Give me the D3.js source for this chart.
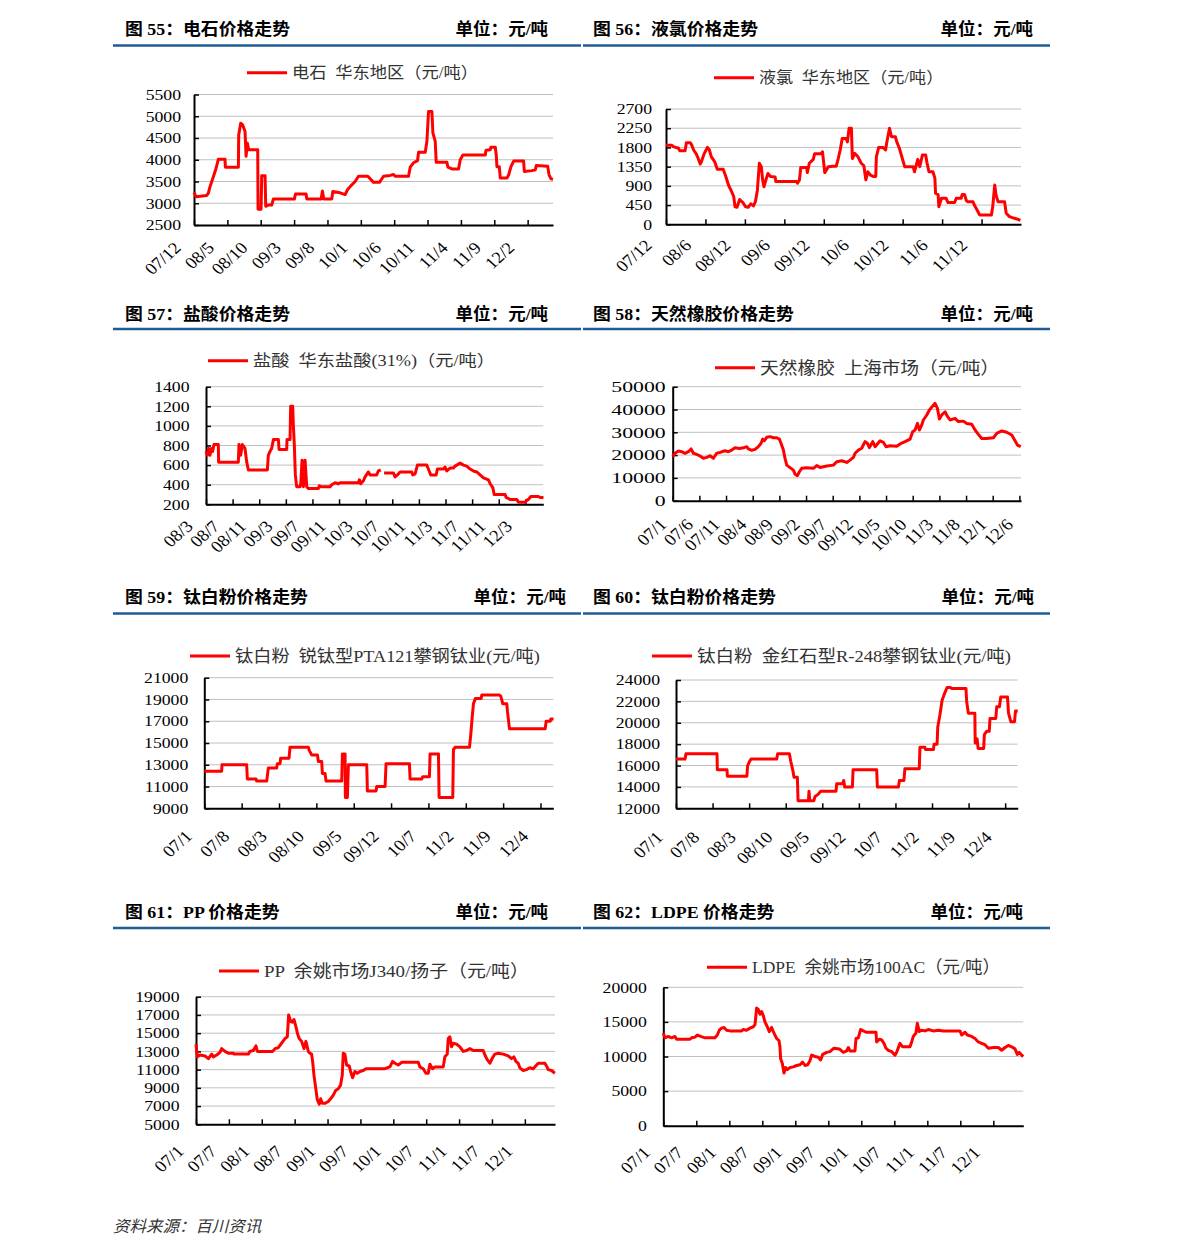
<!DOCTYPE html>
<html>
<head>
<meta charset="utf-8">
<script src="https://cdn.jsdelivr.net/npm/d3@7"></script>
<style>
  body { margin: 0; background: #fff; }
  svg { display: block; }
</style>
</head>
<body>
<svg id="chart" width="1191" height="1256"></svg>
<script>
// ---- data: [months since first label, price in 元/吨] ----
const carbideLabels = ["07/12", "08/5", "08/10", "09/3", "09/8", "10/1", "10/6", "10/11", "11/4", "11/9", "12/2"];
const carbideTicks = [2500, 3000, 3500, 4000, 4500, 5000, 5500];
const carbidePrice = [[0,3250],[0.3,3150],[1.9,3180],[2.15,3230],[2.4,3380],[2.9,3610],[3.3,3800],[3.65,4010],[4.65,4010],[4.7,3830],[6.65,3830],[6.7,4570],[7.0,4840],[7.3,4800],[7.65,4650],[7.8,4080],[8.0,4380],[8.2,4230],[9.55,4230],[9.6,2860],[10.05,2860],[10.15,3630],[10.65,3630],[10.75,2930],[11.15,2960],[11.65,2960],[11.9,3100],[15.05,3100],[15.2,3210],[16.8,3210],[16.9,3100],[19.05,3100],[19.25,3280],[19.45,3100],[20.65,3100],[20.8,3270],[21.9,3240],[22.65,3200],[23.0,3310],[23.5,3400],[24.15,3500],[24.65,3620],[26.05,3620],[26.9,3480],[27.8,3480],[28.4,3620],[29.4,3640],[29.9,3660],[30.15,3620],[32.15,3620],[32.4,3830],[32.9,3930],[33.5,3980],[33.65,4170],[34.65,4170],[34.9,4420],[35.15,5110],[35.65,5110],[35.8,4620],[36.15,4420],[36.3,3940],[37.9,3940],[38.05,3830],[38.65,3790],[39.65,3790],[39.9,4000],[40.3,4110],[43.65,4110],[43.75,4220],[44.4,4230],[44.5,4290],[45.15,4290],[45.3,4100],[45.4,3840],[45.75,3840],[45.9,3580],[46.9,3580],[47.15,3650],[47.5,3840],[47.9,3970],[49.4,3970],[49.5,3730],[50.65,3750],[51.15,3770],[51.3,3870],[53.0,3850],[53.2,3660],[53.5,3560],[53.8,3550]];

const chlorineLabels = ["07/12", "08/6", "08/12", "09/6", "09/12", "10/6", "10/12", "11/6", "11/12"];
const chlorineTicks = [0, 450, 900, 1350, 1800, 2250, 2700];
const chlorinePrice = [[0,1850],[0.9,1850],[1.1,1820],[1.9,1780],[2.1,1720],[2.9,1720],[3.1,1910],[3.7,1910],[3.9,1860],[4.2,1740],[4.6,1650],[4.9,1540],[5.2,1410],[5.4,1470],[5.8,1650],[6.3,1800],[6.6,1740],[6.9,1580],[7.4,1470],[7.8,1290],[8.7,1290],[9.1,1120],[9.5,920],[10.0,760],[10.3,650],[10.5,410],[10.8,400],[11.2,580],[11.7,510],[12.1,410],[12.5,400],[12.9,480],[13.3,430],[13.6,530],[13.9,800],[14.2,1430],[14.5,1350],[14.7,1040],[14.9,880],[15.2,1040],[15.5,1190],[15.9,1120],[16.6,1110],[16.7,1000],[19.9,1000],[20.0,960],[20.3,1040],[20.5,1330],[21.4,1330],[21.5,1210],[21.8,1430],[22.4,1520],[22.6,1650],[23.6,1650],[23.8,1700],[24.15,1210],[24.7,1350],[25.4,1360],[25.9,1360],[26.2,1540],[26.5,1740],[26.8,2010],[27.4,2010],[27.6,1930],[27.85,2250],[28.2,2250],[28.35,1540],[28.7,1660],[29.2,1580],[29.7,1430],[30.1,1370],[30.4,1040],[30.7,1230],[31.1,1150],[31.5,1120],[31.9,1120],[32.0,1580],[32.35,1800],[33.0,1800],[33.4,1740],[33.6,1930],[34.0,2250],[34.3,2050],[34.9,2050],[35.1,1930],[35.5,1780],[35.95,1540],[36.3,1350],[37.6,1350],[37.8,1230],[38.3,1520],[38.6,1350],[39.0,1620],[39.5,1620],[39.7,1440],[40.0,1230],[40.6,1230],[40.9,1080],[41.0,730],[41.4,690],[41.5,410],[41.9,610],[42.6,610],[42.9,510],[43.9,510],[44.15,610],[44.9,610],[45.06,700],[45.4,700],[45.7,550],[45.9,530],[46.7,530],[46.9,450],[47.3,340],[47.7,220],[49.5,220],[49.7,410],[50.0,920],[50.2,690],[50.5,530],[51.5,530],[51.75,260],[52.25,180],[53.0,140],[53.5,120],[53.9,90]];

const hclLabels = ["08/3", "08/7", "08/11", "09/3", "09/7", "09/11", "10/3", "10/7", "10/11", "11/3", "11/7", "11/11", "12/3"];
const hclTicks = [200, 400, 600, 800, 1000, 1200, 1400];
const hclPrice = [[0,740],[0.2,700],[0.4,770],[0.6,700],[0.8,770],[1.0,740],[1.2,810],[1.85,810],[1.9,630],[4.86,630],[4.96,810],[5.21,700],[5.46,810],[5.86,770],[6.12,630],[6.37,550],[9.22,550],[9.37,700],[9.62,740],[9.87,770],[10.13,860],[10.88,860],[10.98,760],[12.13,760],[12.18,860],[12.63,860],[12.73,1200],[13.03,1200],[13.13,1010],[13.28,800],[13.43,500],[13.63,380],[14.14,380],[14.24,410],[14.44,650],[14.64,380],[14.89,650],[15.14,380],[15.39,360],[16.89,360],[17.04,390],[17.24,380],[18.65,380],[18.9,400],[19.4,420],[19.9,410],[20.15,420],[22.91,420],[23.06,450],[23.26,410],[23.66,440],[23.91,480],[24.41,530],[24.66,500],[25.66,500],[25.91,540],[26.27,550],[26.5,null],[26.77,520],[28.17,520],[28.42,480],[28.77,500],[29.17,530],[30.93,530],[31.08,500],[31.43,510],[31.78,600],[33.18,600],[33.43,560],[33.78,500],[34.59,500],[34.79,560],[35.69,560],[35.94,580],[36.19,540],[36.69,570],[37.19,570],[37.44,590],[38.2,620],[38.7,600],[39.2,590],[39.7,560],[40.2,540],[40.7,530],[41.2,500],[41.7,470],[42.46,450],[42.71,410],[43.11,370],[43.31,300],[44.96,300],[45.11,270],[45.71,250],[46.72,250],[46.97,220],[47.97,220],[48.22,240],[48.47,250],[48.82,280],[49.97,280],[50.23,270],[50.73,270]];

const rubberLabels = ["07/1", "07/6", "07/11", "08/4", "08/9", "09/2", "09/7", "09/12", "10/5", "10/10", "11/3", "11/8", "12/1", "12/6"];
const rubberTicks = [0, 10000, 20000, 30000, 40000, 50000];
const rubberPrice = [[0,19300],[0.44,20800],[1.06,21800],[1.69,21500],[2.31,20800],[2.94,21500],[3.44,22700],[3.88,20800],[4.5,20300],[5.13,19600],[5.75,18600],[6.38,19000],[7.0,19700],[7.63,18600],[8.25,20800],[8.88,21200],[9.81,21900],[10.44,21500],[11.06,22200],[11.69,23200],[12.5,22900],[13.25,23200],[13.88,23700],[14.19,22700],[14.81,22100],[15.44,22500],[16.06,23700],[16.56,25200],[16.88,27000],[17.19,26300],[17.63,27800],[18.25,28100],[18.88,27600],[19.5,27600],[20.0,27000],[20.31,25200],[20.75,22200],[21.06,18600],[21.38,15600],[22.0,14500],[22.63,13400],[22.94,11600],[23.38,11000],[23.75,12700],[24.19,14200],[25.13,14500],[26.38,14200],[27.0,15400],[27.63,14600],[28.88,15200],[30.13,15600],[30.75,17100],[31.69,17500],[32.63,16800],[33.25,17800],[33.88,19000],[34.19,20800],[34.81,22200],[35.44,23000],[36.06,25900],[36.5,25200],[36.88,23300],[37.5,25900],[37.94,23700],[38.88,26300],[39.5,25600],[40.0,23700],[40.75,24100],[42.0,23900],[42.63,24900],[43.56,25900],[44.5,27000],[45.0,30300],[45.44,31000],[45.88,33900],[46.25,31000],[46.69,33200],[47.0,35400],[47.63,37600],[48.13,39800],[48.75,41500],[49.19,42700],[49.63,40500],[50.0,35800],[50.44,37600],[51.06,39000],[51.5,37000],[52.0,35400],[52.94,36100],[53.56,34700],[54.5,34900],[55.13,33900],[56.06,33500],[56.69,31000],[57.31,29100],[57.94,27300],[58.88,27300],[60.13,27600],[60.75,29500],[61.69,30600],[62.63,30000],[63.56,28800],[64.19,26300],[64.63,24400],[65.25,23700]];

const tio2Labels = ["07/1", "07/8", "08/3", "08/10", "09/5", "09/12", "10/7", "11/2", "11/9", "12/4"];
const anataseTicks = [9000, 11000, 13000, 15000, 17000, 19000, 21000];
const anatasePrice = [[0,12400],[3.25,12400],[3.31,13000],[7.94,13000],[8.06,11700],[9.69,11700],[9.81,11500],[11.69,11500],[12.0,12700],[13.56,12700],[13.69,13100],[14.19,13100],[14.31,13600],[15.88,13600],[16.06,14600],[19.5,14600],[19.69,14300],[20.13,13900],[21.2,13900],[21.38,13300],[22.0,13300],[22.13,12200],[22.63,12200],[22.81,11500],[25.75,11500],[25.88,14000],[26.38,14000],[26.44,10000],[26.81,10000],[27.0,13000],[30.44,13000],[30.56,10600],[32.19,10600],[32.31,11000],[33.88,11000],[34.06,13100],[38.44,13100],[38.56,11700],[40.75,11700],[40.94,11900],[42.19,11900],[42.31,14000],[43.88,14000],[44.0,10000],[46.56,10000],[46.69,14400],[47.0,14600],[49.69,14600],[49.94,15800],[50.19,17300],[50.44,18600],[50.81,19100],[51.88,19100],[52.0,19400],[55.31,19400],[55.56,19300],[55.94,18600],[56.69,18600],[56.81,17900],[57.19,16300],[63.88,16300],[64.06,17000],[64.81,17000],[64.94,17200],[65.44,17200]];

const rutileTicks = [12000, 14000, 16000, 18000, 20000, 22000, 24000];
const rutilePrice = [[0,16600],[1.72,16600],[1.91,17100],[7.85,17100],[7.91,15600],[9.76,15600],[9.83,15000],[13.56,15000],[13.71,16000],[14.1,16400],[14.36,16600],[19.27,16600],[19.46,17100],[21.7,17100],[21.96,16400],[22.34,15600],[22.59,14900],[23.23,14900],[23.36,12700],[25.34,12700],[25.46,13600],[25.59,12700],[26.36,12700],[26.62,13100],[27.19,13300],[27.7,13600],[30.63,13600],[30.76,14300],[31.91,14300],[32.1,14600],[32.29,14000],[33.76,14000],[33.89,15600],[38.41,15600],[38.54,14000],[42.57,14000],[42.76,14600],[43.62,14600],[43.81,15700],[46.56,15700],[46.69,17700],[47.64,17700],[47.77,17500],[49.27,17500],[49.4,18000],[49.97,18000],[50.1,19600],[50.5,20700],[50.93,22100],[51.37,22700],[51.88,23300],[52.56,23300],[52.75,23200],[55.5,23200],[55.63,22000],[55.95,20900],[57.2,20900],[57.26,18100],[57.63,18500],[57.82,17600],[58.89,17600],[59.02,18900],[59.45,19200],[59.96,19200],[60.09,20400],[61.2,20400],[61.39,21500],[61.9,21500],[62.15,22400],[63.45,22400],[63.64,20900],[64.09,20100],[64.79,20100],[64.98,21100],[65.4,21100]];

const polyLabels = ["07/1", "07/7", "08/1", "08/7", "09/1", "09/7", "10/1", "10/7", "11/1", "11/7", "12/1"];
const ppTicks = [5000, 7000, 9000, 11000, 13000, 15000, 17000, 19000];
const ppPrice = [[0,13800],[0.24,12400],[0.73,12600],[1.64,12500],[2.25,12200],[2.86,12700],[3.16,12400],[3.77,12600],[4.38,12900],[4.68,13300],[5.29,13000],[5.9,12800],[6.81,12800],[6.93,12700],[9.55,12700],[9.85,13000],[10.46,13100],[10.94,13600],[11.19,13000],[11.98,13000],[13.98,13000],[14.41,13300],[15.02,13400],[15.62,13900],[16.23,14400],[16.66,14600],[16.9,17000],[17.26,16300],[17.57,16200],[17.87,16500],[18.24,15700],[18.54,14900],[18.84,14400],[19.27,14100],[19.7,13300],[20.06,14100],[20.49,13000],[20.79,12800],[21.09,12700],[21.28,11900],[21.52,10400],[21.88,8800],[22.13,7700],[22.49,7200],[22.74,7800],[23.04,7300],[23.53,7300],[24.13,7500],[24.56,7800],[25.05,8200],[25.47,8700],[25.96,8900],[26.38,9300],[26.69,10400],[26.87,12800],[27.17,12700],[27.48,11500],[27.96,11400],[28.21,10800],[28.57,10100],[28.99,10800],[29.42,10600],[29.91,10800],[30.52,10900],[31.0,11100],[34.47,11100],[34.89,11200],[35.38,11300],[35.87,11900],[36.29,11700],[36.9,11500],[37.51,11800],[40.55,11800],[40.85,11300],[41.46,11100],[41.95,10600],[42.37,10600],[42.68,11600],[43.16,11100],[43.59,11300],[45.11,11300],[45.41,12400],[45.84,12700],[46.02,14400],[46.32,14600],[46.63,13500],[46.93,13900],[47.54,13800],[48.15,13500],[48.75,13000],[49.36,13100],[49.97,13300],[50.58,13100],[52.4,13100],[52.71,12600],[53.13,12100],[53.62,11700],[54.1,12300],[54.53,12700],[55.14,12800],[56.05,12700],[56.96,12500],[57.57,12200],[58.0,12400],[58.36,11900],[58.78,11700],[59.09,11200],[59.7,10900],[60.3,11000],[60.91,11200],[61.52,11100],[62.43,11700],[63.65,11700],[63.95,11400],[64.26,11000],[64.86,10900],[65.47,10600]];

const ldpeTicks = [0, 5000, 10000, 15000, 20000];
const ldpePrice = [[0,13400],[0.3,12700],[0.91,12900],[1.52,12700],[2.12,12900],[2.42,12500],[4.85,12500],[5.15,12700],[5.76,12800],[6.18,13100],[6.79,12900],[7.58,12700],[9.39,12700],[9.82,13100],[10.18,13800],[10.61,14100],[11.03,14200],[11.52,13800],[12.12,13700],[14.24,13700],[14.55,13900],[15.15,13800],[15.76,14100],[16.36,14300],[16.67,14600],[16.97,17000],[17.27,16800],[17.58,16100],[17.88,16500],[18.18,15900],[18.48,15000],[18.91,14300],[19.27,13600],[19.7,14200],[20.0,13600],[20.3,13100],[20.61,12600],[21.03,12300],[21.21,11400],[21.33,9700],[21.64,9000],[21.94,7600],[22.24,8400],[22.55,8100],[23.03,8400],[23.64,8500],[24.24,8700],[24.85,8800],[25.33,9200],[25.76,8700],[26.24,8800],[26.67,9400],[26.97,10200],[27.58,10000],[28.18,9900],[28.61,9500],[28.97,10300],[29.7,10600],[30.3,10700],[31.03,11200],[32.0,11100],[32.73,10600],[33.33,10800],[33.64,11300],[33.94,10800],[34.85,10800],[35.03,12600],[35.45,12700],[35.88,13900],[36.36,13700],[36.97,13500],[38.67,13500],[38.79,12100],[39.27,12500],[39.7,12400],[40.12,11900],[40.48,11200],[40.91,10900],[41.52,10700],[42.12,10200],[42.42,10600],[43.03,11900],[43.52,11400],[44.24,11400],[44.85,11400],[45.15,12100],[45.45,12900],[45.94,13400],[46.18,14800],[46.55,13600],[46.97,13800],[47.58,13700],[48.18,13900],[49.09,13700],[50.0,13800],[50.91,13700],[53.94,13700],[54.24,13100],[54.85,13500],[55.27,13100],[56.06,12900],[56.67,12600],[57.27,12100],[57.88,11900],[58.48,11700],[59.09,11200],[60.0,11300],[60.91,11300],[61.52,10900],[62.12,11300],[62.73,11600],[63.33,11400],[63.94,11100],[64.36,10300],[64.73,10600],[65.15,10200],[65.45,10000]];

// ---- panel layout ----
const panels = [
  { title: "图 55：电石价格走势", legend: "电石  华东地区（元/吨）", labels: carbideLabels, data: carbidePrice, ticks: carbideTicks, every: 5, end: 53.8,
    x0: 194, x1: 553, yTop: 94.5, yBot: 225, titleX: 125, titleY: 29.5, unitRight: 548, ruleY: 45.5, ruleX0: 113, ruleX1: 581,
    legX: 247, legY: 72.7, legSize: 16, legSx: 1.08, yGap: 13, ldx: -12, ldy: 24 },
  { title: "图 56：液氯价格走势", legend: "液氯  华东地区（元/吨）", labels: chlorineLabels, data: chlorinePrice, ticks: chlorineTicks, every: 6, end: 54,
    x0: 666, x1: 1021, yTop: 109, yBot: 224.3, titleX: 593, titleY: 29.5, unitRight: 1033, ruleY: 45.5, ruleX0: 583, ruleX1: 1050,
    legX: 714, legY: 77.7, legSize: 16, legSx: 1.07, yGap: 14, ldx: -13, ldy: 22 },
  { title: "图 57：盐酸价格走势", legend: "盐酸  华东盐酸(31%)（元/吨）", labels: hclLabels, data: hclPrice, ticks: hclTicks, every: 4, end: 50.7,
    x0: 206, x1: 543.3, yTop: 386.7, yBot: 504.3, titleX: 125, titleY: 314, unitRight: 548, ruleY: 329, ruleX0: 113, ruleX1: 581,
    legX: 208, legY: 360.7, legSize: 16, legSx: 1.14, yGap: 16.5, ldx: -12, ldy: 23 },
  { title: "图 58：天然橡胶价格走势", legend: "天然橡胶  上海市场（元/吨）", labels: rubberLabels, data: rubberPrice, ticks: rubberTicks, every: 5, end: 65.3,
    x0: 672.7, x1: 1021, yTop: 386.7, yBot: 500.7, titleX: 593, titleY: 314, unitRight: 1033, ruleY: 329, ruleX0: 583, ruleX1: 1050,
    legX: 715, legY: 367.7, legSize: 17.5, legSx: 1.07, yGap: 7, ySx: 1.45, ldx: -5, ldy: 25 },
  { title: "图 59：钛白粉价格走势", legend: "钛白粉  锐钛型PTA121攀钢钛业(元/吨)", labels: tio2Labels, data: anatasePrice, ticks: anataseTicks, every: 7, end: 65.4,
    x0: 204.3, x1: 553.3, yTop: 677.7, yBot: 808.3, titleX: 125, titleY: 597, unitRight: 566, ruleY: 613.5, ruleX0: 113, ruleX1: 581,
    legX: 190, legY: 656, legSize: 17.5, legSx: 1.04, yGap: 16, ldx: -11, ldy: 29 },
  { title: "图 60：钛白粉价格走势", legend: "钛白粉  金红石型R-248攀钢钛业(元/吨)", labels: tio2Labels, data: rutilePrice, ticks: rutileTicks, every: 7, end: 65.4,
    x0: 676, x1: 1017.7, yTop: 680, yBot: 808.3, titleX: 593, titleY: 597, unitRight: 1034, ruleY: 613.5, ruleX0: 583, ruleX1: 1050,
    legX: 652, legY: 656, legSize: 17.5, legSx: 1.06, yGap: 16, ldx: -12, ldy: 30 },
  { title: "图 61：PP 价格走势", legend: "PP  余姚市场J340/扬子（元/吨）", labels: polyLabels, data: ppPrice, ticks: ppTicks, every: 6, end: 65.5,
    x0: 196, x1: 555, yTop: 996.7, yBot: 1124.3, titleX: 125, titleY: 912, unitRight: 548, ruleY: 928, ruleX0: 113, ruleX1: 581,
    legX: 219, legY: 971, legSize: 17.5, legSx: 1.08, yGap: 16.5, ldx: -11, ldy: 28 },
  { title: "图 62：LDPE 价格走势", legend: "LDPE  余姚市场100AC（元/吨）", labels: polyLabels, data: ldpePrice, ticks: ldpeTicks, every: 6, end: 65.45,
    x0: 663.3, x1: 1023.3, yTop: 987.3, yBot: 1125.7, titleX: 593, titleY: 912, unitRight: 1023, ruleY: 928, ruleX0: 583, ruleX1: 1050,
    legX: 707, legY: 967.3, legSize: 17.5, legSx: 1.0, yGap: 16.5, ldx: -12, ldy: 28 }
];

const SERIF = "'Liberation Serif', 'Times New Roman', 'Noto Sans CJK SC', serif";
const RED = "#ff0000";
const BLUE = "#1f5c96";

const svg = d3.select("#chart");

// text that is stretched sideways like the source image
function addText(g, x, y, str, o) {
  return g.append("text")
    .attr("transform", `translate(${x},${y}) scale(${o.sx || 1},1)` + (o.rotate ? ` rotate(${o.rotate})` : ""))
    .attr("text-anchor", o.anchor || "start")
    .attr("dy", o.dy == null ? "0.35em" : o.dy)
    .style("white-space", "pre")
    .style("font-family", o.family || SERIF)
    .style("font-size", o.size + "px")
    .style("font-weight", o.weight || "normal")
    .style("font-style", o.style || "normal")
    .style("fill", o.fill || "#000")
    .text(str);
}

function drawPanel(p) {
  const g = svg.append("g");

  // header
  addText(g, p.titleX, p.titleY, p.title, { size: 17, weight: "bold", sx: 1.05 });
  addText(g, p.unitRight, p.titleY, "单位：元/吨", { size: 17, weight: "bold", anchor: "end", sx: 1.03 });
  g.append("line")
    .attr("x1", p.ruleX0).attr("x2", p.ruleX1)
    .attr("y1", p.ruleY).attr("y2", p.ruleY)
    .attr("stroke", BLUE).attr("stroke-width", 2.5);

  const x = d3.scaleLinear().domain([0, p.end]).range([p.x0, p.x1]);
  const y = d3.scaleLinear().domain(d3.extent(p.ticks)).range([p.yBot, p.yTop]);

  // gridlines
  g.append("g").selectAll("line")
    .data(p.ticks.slice(1))
    .join("line")
    .attr("x1", p.x0).attr("x2", p.x1)
    .attr("y1", d => y(d)).attr("y2", d => y(d))
    .attr("stroke", "#c0c0c0").attr("stroke-width", 1);

  // axes with inside ticks
  const tickMonths = p.labels.map((_, i) => i * p.every);
  const xAxis = g.append("g")
    .attr("transform", `translate(0,${p.yBot})`)
    .call(d3.axisBottom(x).tickValues(tickMonths).tickSize(-5).tickSizeOuter(0).tickFormat(""));
  const yAxis = g.append("g")
    .attr("transform", `translate(${p.x0},0)`)
    .call(d3.axisLeft(y).tickValues(p.ticks).tickSize(-5).tickSizeOuter(0).tickFormat(""));
  [xAxis, yAxis].forEach(a => {
    a.select(".domain").attr("stroke", "#000").attr("stroke-width", 2);
    a.selectAll(".tick line").attr("stroke", "#000").attr("stroke-width", 1.5);
  });

  // series
  g.append("path")
    .datum(p.data)
    .attr("d", d3.line().defined(d => d[1] != null).x(d => x(d[0])).y(d => y(d[1])))
    .attr("fill", "none")
    .attr("stroke", RED)
    .attr("stroke-width", 3)
    .attr("stroke-linejoin", "round");

  // y tick labels
  p.ticks.forEach(v => addText(g, p.x0 - p.yGap, y(v), v, { size: 15, anchor: "end", sx: p.ySx || 1.18 }));

  // rotated x labels
  p.labels.forEach((l, i) => addText(g, x(i * p.every) + p.ldx, p.yBot + p.ldy, l,
    { size: 16.5, anchor: "end", sx: 1.12, rotate: -45, dy: 0 }));

  // legend
  g.append("line")
    .attr("x1", p.legX).attr("x2", p.legX + 40)
    .attr("y1", p.legY).attr("y2", p.legY)
    .attr("stroke", RED).attr("stroke-width", 3);
  addText(g, p.legX + 45, p.legY, p.legend, { size: p.legSize, sx: p.legSx, fill: "#333" });
}

panels.forEach(drawPanel);

addText(svg, 113, 1226.5, "资料来源：百川资讯", { size: 16, sx: 1.03, style: "italic", fill: "#333" });
</script>
</body>
</html>
